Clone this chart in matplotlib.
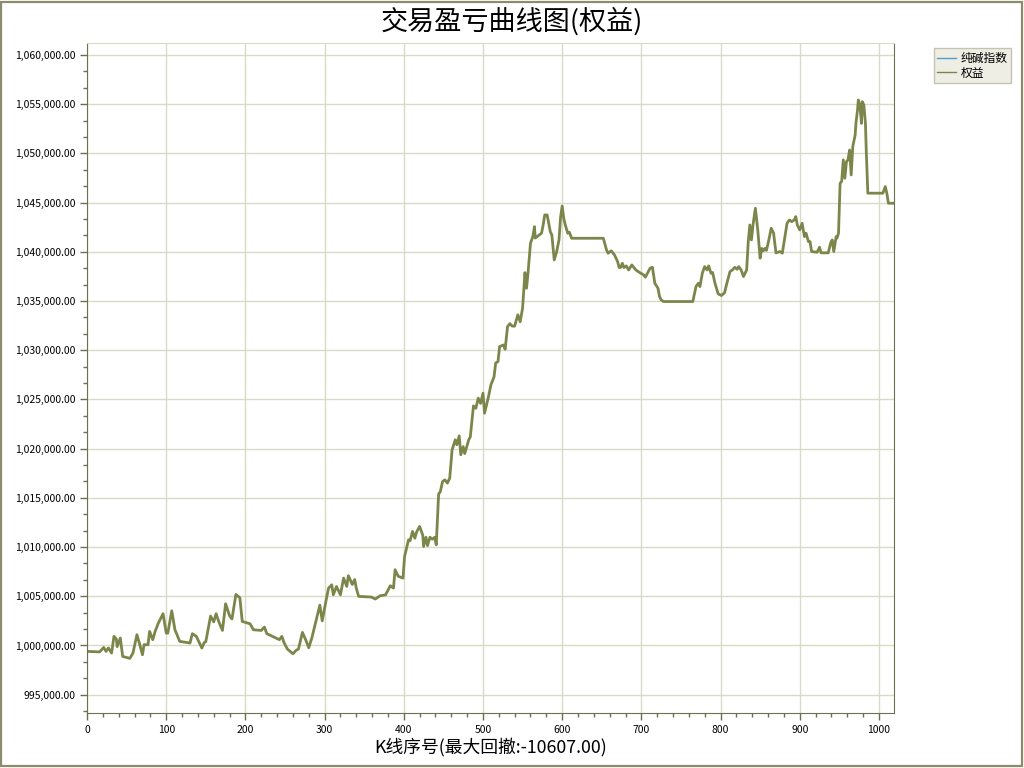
import matplotlib
matplotlib.use('Agg')
from matplotlib import pyplot as plt
from matplotlib.ticker import FuncFormatter, MultipleLocator, AutoMinorLocator
from matplotlib.patches import Rectangle

plt.rcParams['font.family'] = ['Noto Sans CJK SC', 'DejaVu Sans']

# K线序号 / 权益
bars = [0, 16, 21, 24, 27, 31, 34, 37, 38, 42, 45, 54, 58, 63, 66, 70, 72, 77, 79, 83,
        86, 90, 96, 100, 102, 107, 111, 117, 130, 133, 138, 145, 148, 150, 156, 160, 163, 166, 171, 175,
        180, 183, 188, 193, 196, 206, 210, 220, 224, 227, 243, 246, 249, 253, 260, 264, 267, 272, 276, 280,
        284, 290, 294, 297, 302, 305, 309, 311, 315, 320, 324, 328, 330, 335, 338, 340, 343, 359, 364, 370,
        377, 383, 387, 389, 393, 399, 401, 406, 408, 411, 414, 416, 420, 424, 425, 428, 430, 433, 436, 439,
        441, 444, 446, 449, 452, 455, 458, 461, 465, 467, 470, 472, 475, 477, 482, 484, 488, 491, 494, 497,
        500, 502, 507, 510, 514, 516, 519, 521, 526, 528, 531, 534, 537, 540, 544, 547, 550, 553, 555, 557,
        560, 563, 565, 566, 571, 574, 576, 578, 581, 585, 587, 590, 593, 596, 598, 600, 602, 604, 607, 609,
        612, 652, 656, 658, 662, 666, 670, 672, 674, 676, 678, 681, 684, 688, 693, 698, 703, 705, 711, 714,
        717, 721, 723, 725, 728, 765, 769, 772, 774, 777, 780, 783, 785, 788, 790, 793, 797, 801, 805, 808,
        812, 815, 818, 821, 823, 826, 829, 833, 835, 837, 839, 841, 844, 847, 850, 852, 854, 856, 858, 861,
        864, 867, 870, 875, 878, 884, 887, 890, 893, 895, 897, 900, 903, 906, 908, 911, 913, 915, 922, 925,
        927, 936, 939, 941, 943, 946, 947, 949, 951, 953, 955, 957, 959, 961, 963, 965, 967, 970, 971, 973,
        974, 976, 978, 979, 981, 983, 984, 986, 1005, 1008, 1010, 1012, 1019]

equity = [999400, 999350, 999800, 999400, 999750, 999230, 1000930, 1000660, 999880, 1000760,
          998890, 998690, 999230, 1001100, 1000250, 999060, 1000080, 1000080, 1001430, 1000590,
          1001430, 1002270, 1003230, 1001260, 1001260, 1003530, 1001600, 1000420, 1000250, 1001200,
          1000930, 999740, 1000300, 1000400, 1002990, 1002400, 1003230, 1002500, 1001530, 1004240,
          1003020, 1002690, 1005190, 1004850, 1002440, 1002200, 1001600, 1001530, 1001870, 1001200,
          1000590, 1000930, 1000250, 999640, 999160, 999500, 999640, 1001330, 1000600, 999770,
          1000800, 1002800, 1004100, 1002500, 1004650, 1005830, 1006170, 1005150, 1006000, 1005150,
          1006850, 1006000, 1007090, 1006200, 1006700, 1005830, 1004990, 1004920, 1004720, 1005050,
          1005150, 1006070, 1005830, 1007700, 1007030, 1006850, 1009050, 1010740, 1010650, 1011590,
          1010900, 1011500, 1012100, 1011200, 1010060, 1011000, 1010150, 1011000, 1010800, 1011000,
          1010230, 1015400, 1015600, 1016660, 1016830, 1016500, 1017000, 1019880, 1020900, 1020400,
          1021300, 1019380, 1020200, 1019500, 1020900, 1021200, 1024350, 1024100, 1025130, 1024600,
          1025640, 1023610, 1025300, 1026480, 1027300, 1028690, 1028860, 1030370, 1030540, 1030100,
          1032400, 1032700, 1032450, 1032450, 1033600, 1032900, 1034270, 1037890, 1036300, 1037950,
          1040880, 1041550, 1042560, 1041400, 1041720, 1041900, 1042730, 1043750, 1043750, 1042060,
          1041700, 1039180, 1040000, 1041210, 1043530, 1044660, 1043400, 1042730, 1041900, 1042000,
          1041380, 1041380, 1040200, 1039860, 1040100, 1039700, 1039010, 1038400, 1038430, 1038840,
          1038400, 1038570, 1038160, 1038670, 1038160, 1037890, 1037650, 1037420, 1038330, 1038430,
          1036810, 1036300, 1035460, 1035120, 1034950, 1034950, 1036470, 1036810, 1036470, 1037830,
          1038500, 1038160, 1038570, 1037830, 1037900, 1036810, 1035730, 1035560, 1035830, 1036810,
          1038000, 1038160, 1038430, 1038230, 1038500, 1038160, 1037490, 1038160, 1041040, 1042730,
          1041210, 1042730, 1044430, 1042230, 1039350, 1040350, 1040100, 1040350, 1040150, 1041210,
          1042400, 1041900, 1039900, 1040030, 1039860, 1042900, 1043240, 1043070, 1043240, 1043580,
          1042730, 1042230, 1042900, 1041550, 1041890, 1041040, 1041040, 1040030, 1039960, 1040470,
          1039900, 1039900, 1040880, 1041210, 1040030, 1041550, 1041380, 1041890, 1046970, 1047150,
          1049340, 1047480, 1049170, 1049340, 1050350, 1047810, 1050690, 1051870, 1053060, 1054410,
          1055430, 1054920, 1053060, 1055260, 1054920, 1053060, 1050350, 1045960, 1045960, 1046630,
          1045960, 1044940, 1044940]

index_vals = []  # 纯碱指数: not visible in the reference

grid_col = '#dadac6'
axis_col = '#6e6e50'
line_col = '#7b864b'

fig = plt.figure(figsize=(10.24, 7.68), dpi=100)
fig.patch.set_facecolor('white')
fig.patches.append(Rectangle((0.001, 0.002), 0.997, 0.996, transform=fig.transFigure,
                             fill=False, edgecolor='#8c8c6c', linewidth=1.6))

ax = fig.add_axes([0.085, 0.072, 0.788, 0.872])
ax.plot(index_vals, index_vals, color='#4aa0c8', linewidth=1, label='纯碱指数')
ax.plot(bars, equity, color=line_col, linewidth=2, label='权益')

ax.set_xlim(0, 1019)
ax.set_ylim(993170, 1061220)
ax.xaxis.set_major_locator(MultipleLocator(100))
ax.xaxis.set_minor_locator(AutoMinorLocator(5))
ax.yaxis.set_major_locator(MultipleLocator(5000))
ax.yaxis.set_minor_locator(AutoMinorLocator(3))
ax.yaxis.set_major_formatter(FuncFormatter(lambda v, p: f'{v:,.2f}'))

ax.grid(True, which='major', color=grid_col, linewidth=1)
ax.tick_params(axis='both', which='major', labelsize=7.5, color=axis_col, length=5, width=1)
ax.tick_params(axis='both', which='minor', color=axis_col, length=3, width=1)
for s in ['left', 'bottom', 'right']:
    ax.spines[s].set_color(axis_col)
ax.spines['top'].set_color(grid_col)

fig.text(0.5, 0.972, '交易盈亏曲线图(权益)', fontsize=19.5, ha='center', va='center')
ax.set_xlabel('K线序号(最大回撤:-10607.00)', fontsize=12.8, labelpad=2)

leg = fig.legend(loc='upper left', bbox_to_anchor=(0.906, 0.945), fontsize=8.5,
                 frameon=True, fancybox=False, handlelength=1.6, handletextpad=0.4,
                 borderpad=0.3, labelspacing=0.15)
leg.get_frame().set_facecolor('#efeee5')
leg.get_frame().set_edgecolor('#c4c4b0')
leg.get_frame().set_alpha(1)
leg.get_lines()[1].set_linewidth(1)

fig.savefig('out.png', dpi=100)
